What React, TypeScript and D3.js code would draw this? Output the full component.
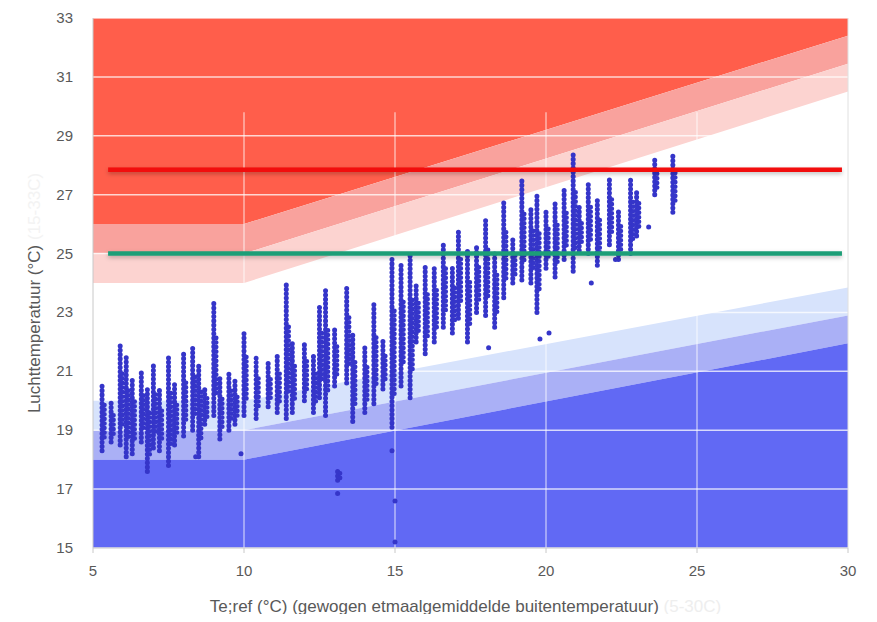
import React from 'react';
import * as d3 from 'd3';

// comfort bands: [x, lower, upper]
const redBands = [
  { color: '#ff5e4b', lo: [[5, 26], [10, 26], [30, 32.4]], hi: [[5, 33], [30, 33]] },
  { color: '#f9a29d', lo: [[5, 25], [10, 25], [30, 31.45]], hi: [[5, 26], [10, 26], [30, 32.4]] },
  { color: '#fcd3d0', lo: [[5, 24], [10, 24], [30, 30.5]], hi: [[5, 25], [10, 25], [30, 31.45]] },
];
const blueBands = [
  { color: '#d7e3fc', lo: [[5, 19], [10, 19], [30, 22.9]], hi: [[5, 20], [10, 20], [30, 23.85]] },
  { color: '#aab0f6', lo: [[5, 18], [10, 18], [30, 21.95]], hi: [[5, 19], [10, 19], [30, 22.9]] },
  { color: '#6169f4', lo: [[5, 15], [30, 15]], hi: [[5, 18], [10, 18], [30, 21.95]] },
];

// measured columns: x, min, max
const columns: [number, number, number][] = [
  [5.3, 18.3, 20.6], [5.6, 18.6, 20.0], [5.9, 18.5, 22.0], [6.1, 18.1, 21.5], [6.3, 18.2, 20.8],
  [6.6, 18.6, 21.0], [6.8, 17.6, 20.5], [7.0, 18.4, 21.2], [7.2, 18.3, 20.4], [7.5, 17.8, 21.5],
  [7.7, 18.5, 20.6], [8.0, 18.8, 21.6], [8.3, 19.0, 21.8], [8.5, 18.1, 21.3], [8.7, 19.2, 20.5],
  [9.0, 19.5, 23.3], [9.2, 18.7, 20.8], [9.5, 19.0, 21.0], [9.7, 19.2, 20.7], [10.0, 19.5, 22.4],
  [10.4, 19.4, 21.5], [10.8, 19.8, 21.3], [11.1, 19.6, 21.5], [11.4, 19.4, 24.0], [11.6, 19.6, 22.0],
  [12.0, 20.0, 22.0], [12.3, 19.6, 21.5], [12.5, 20.1, 23.3], [12.7, 19.5, 23.8], [13.0, 20.5, 22.5],
  [13.1, 17.3, 17.7], [13.4, 20.6, 23.9], [13.6, 19.3, 22.3], [14.0, 19.6, 21.8], [14.3, 19.9, 23.3],
  [14.6, 20.4, 22.1], [14.9, 19.1, 24.8], [15.2, 20.5, 24.6], [15.5, 20.1, 25.0], [15.7, 22.0, 23.9],
  [16.0, 21.6, 24.6], [16.3, 22.0, 24.5], [16.6, 22.5, 25.4], [16.9, 22.3, 24.5], [17.1, 22.8, 25.8],
  [17.4, 22.0, 25.1], [17.7, 23.0, 25.2], [18.0, 22.9, 26.2], [18.3, 22.5, 25.1], [18.6, 23.5, 26.8],
  [18.9, 24.0, 25.5], [19.2, 24.1, 27.5], [19.5, 24.0, 26.6], [19.7, 23.0, 27.0], [20.0, 24.5, 26.5],
  [20.3, 24.2, 26.8], [20.6, 24.8, 27.2], [20.9, 24.4, 28.4], [21.1, 25.1, 26.6], [21.4, 25.0, 27.4],
  [21.7, 24.6, 26.8], [22.1, 25.3, 27.5], [22.4, 24.8, 26.5], [22.8, 25.0, 27.5], [23.0, 25.6, 27.2],
  [23.6, 27.0, 28.2], [24.2, 26.4, 28.4],
];
// isolated points: x, y
const outliers: [number, number][] = [
  [13.1, 16.85], [15.0, 16.6], [15.0, 15.2], [14.9, 18.3], [19.8, 22.1], [20.1, 22.3],
  [18.1, 21.8], [21.5, 24.0], [22.3, 24.8], [23.4, 25.9], [9.9, 18.2], [8.4, 18.1],
];

const xTicks = [5, 10, 15, 20, 25, 30];
const yTicks = [15, 17, 19, 21, 23, 25, 27, 29, 31, 33];
const limitLines = [
  { y: 27.85, color: '#f20d0d' },
  { y: 25, color: '#1b9e77' },
];

export default function App() {
  const W = 877, H = 622;
  const m = { l: 93, r: 848, t: 18, b: 548 };
  const x = d3.scaleLinear().domain([5, 30]).range([m.l, m.r]);
  const y = d3.scaleLinear().domain([15, 33]).range([m.b, m.t]);
  const poly = (lo: number[][], hi: number[][]) =>
    [...lo, ...[...hi].reverse()].map(p => `${x(p[0])},${y(p[1])}`).join(' ');
  const font = "'Liberation Sans', Arial, sans-serif";
  return (
    <svg width={W} height={H} style={{ display: 'block', margin: '-8px', fontFamily: font }}>
      <defs>
        <filter id="sh" filterUnits="userSpaceOnUse" x="0" y="0" width={W} height={H}>
          <feDropShadow dx="0" dy="2" stdDeviation="2" floodColor="#000" floodOpacity="0.25" />
        </filter>
      </defs>
      <rect width={W} height={H} fill="#fff" />
      {[...redBands, ...blueBands].map((b, i) => (
        <polygon key={i} points={poly(b.lo, b.hi)} fill={b.color} />
      ))}
      {yTicks.map(t => (
        <line key={t} x1={m.l} x2={m.r} y1={y(t)} y2={y(t)} stroke="#fff" strokeOpacity={0.75} strokeWidth={1.5} />
      ))}
      {xTicks.slice(1, -1).map(t => (
        <line key={t} x1={x(t)} x2={x(t)} y1={y(29.8)} y2={m.b} stroke="#fff" strokeOpacity={0.55} strokeWidth={1.5} />
      ))}
      <line x1={m.l} x2={m.l} y1={m.t} y2={m.b} stroke="#c8c8c8" />
      <line x1={m.l} x2={m.r} y1={m.b} y2={m.b} stroke="#c8c8c8" />
      <line x1={m.r} x2={m.r} y1={m.t} y2={m.b} stroke="#e0e0e0" />
      {xTicks.map(t => (
        <g key={t}>
          <line x1={x(t)} x2={x(t)} y1={m.b} y2={m.b + 5} stroke="#c8c8c8" />
          <text x={x(t)} y={m.b + 28} textAnchor="middle" fontSize={15} fill="#595959">{t}</text>
        </g>
      ))}
      {yTicks.map(t => (
        <text key={t} x={m.l - 20} y={y(t) + 5} textAnchor="end" fontSize={15} fill="#595959">{t}</text>
      ))}
      {columns.map(([cx, lo, hi], i) => (
        <line key={i} x1={x(cx)} x2={x(cx)} y1={y(lo)} y2={y(hi)} stroke="#3535c9" strokeWidth={5}
          strokeLinecap="round" strokeDasharray="0.1 4.2" />
      ))}
      {columns.map(([cx, lo, hi], i) => (
        <line key={'b' + i} x1={x(cx) + 2.5} x2={x(cx) + 2.5} y1={y(lo + (hi - lo) * 0.2)} y2={y(hi - (hi - lo) * 0.3)}
          stroke="#3535c9" strokeWidth={4.5} strokeLinecap="round" strokeDasharray="0.1 4.5" />
      ))}
      {outliers.map(([px, py], i) => (
        <circle key={i} cx={x(px)} cy={y(py)} r={2.5} fill="#3535c9" />
      ))}
      {limitLines.map(l => (
        <line key={l.y} x1={x(5.5)} x2={x(29.8)} y1={y(l.y)} y2={y(l.y)} stroke={l.color} strokeWidth={4.5} filter="url(#sh)" />
      ))}
      <text transform={`translate(40,${(m.t + m.b) / 2 + 10}) rotate(-90)`} textAnchor="middle" fontSize={17} fill="#595959">
        Luchttemperatuur (°C) <tspan fill="#f3f3f3">(15-33C)</tspan>
      </text>
      <text x={(m.l + m.r) / 2 - 5} y={612} textAnchor="middle" fontSize={17} fill="#595959">
        Te;ref (°C) (gewogen etmaalgemiddelde buitentemperatuur) <tspan fill="#eeeeee">(5-30C)</tspan>
      </text>
    </svg>
  );
}
